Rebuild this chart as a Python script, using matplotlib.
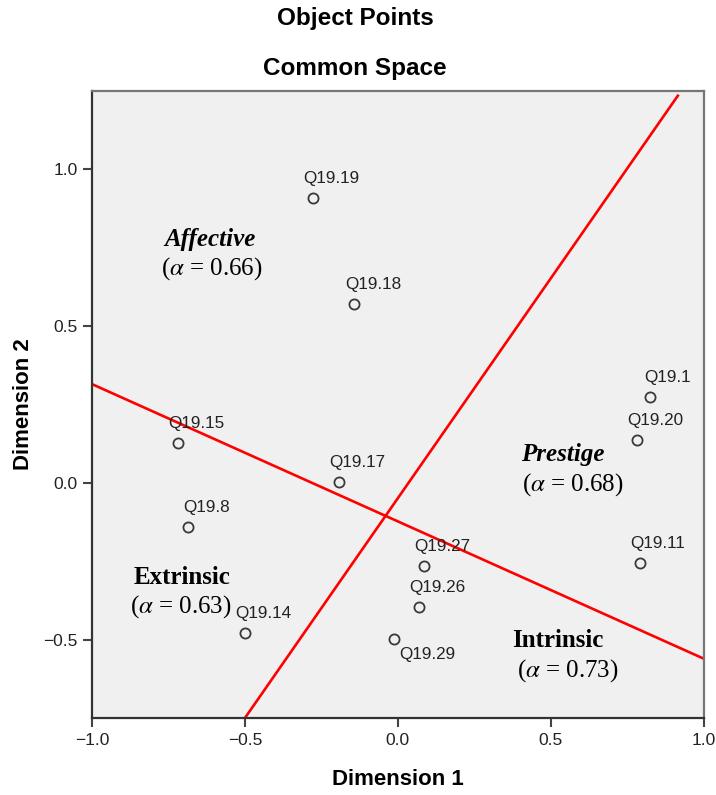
import numpy as np
import matplotlib
matplotlib.use("Agg")
import matplotlib.pyplot as plt

plt.rcParams['font.family'] = ['Liberation Sans', 'DejaVu Sans']
plt.rcParams['mathtext.fontset'] = 'stix'

# Puntos de objeto (espacio comun)
labels = ['Q19.19', 'Q19.18', 'Q19.1', 'Q19.20', 'Q19.15', 'Q19.17',
          'Q19.8', 'Q19.27', 'Q19.11', 'Q19.26', 'Q19.14', 'Q19.29']
dim1 = [-0.279, -0.142, 0.823, 0.780, -0.719, -0.194,
        -0.687, 0.084, 0.790, 0.068, -0.501, -0.014]
dim2 = [0.909, 0.571, 0.274, 0.137, 0.128, 0.004,
        -0.140, -0.264, -0.255, -0.395, -0.478, -0.497]

# Lineas divisorias (extremos)
line1_x = [-0.50, 0.915]
line1_y = [-0.75, 1.235]
line2_x = [-1.0, 1.0]
line2_y = [0.315, -0.561]

# Grupos
groups = ['Affective', 'Prestige', 'Extrinsic', 'Intrinsic']
alphas = ['0.66', '0.68', '0.63', '0.73']
italic = [True, True, False, False]
name_pos = [(-0.615, 0.775), (0.539, 0.089), (-0.707, -0.301), (0.522, -0.503)]
alpha_pos = [(-0.609, 0.683), (0.572, -0.006), (-0.710, -0.396), (0.555, -0.600)]

fig = plt.figure(figsize=(7.16, 7.95), dpi=100)
ax = fig.add_axes([0.1285, 0.0969, 0.8545, 0.7886])
ax.set_facecolor('#f0f0f0')

ax.plot(line1_x, line1_y, color='#ff0000', lw=1.9, zorder=2)
ax.plot(line2_x, line2_y, color='#ff0000', lw=1.9, zorder=2)

ax.plot(dim1, dim2, 'o', ms=7.3, mfc='none', mec='#3a3a3a', mew=1.3, zorder=3)

# Etiquetas de puntos (desplazamiento en pixeles)
for lab, x, y in zip(labels, dim1, dim2):
    dx, dy, va = -9, 12, 'bottom'
    if lab in ('Q19.1', 'Q19.8'):
        dx = -5
    if lab == 'Q19.15':
        dx = -10
    if lab == 'Q19.29':
        dx, dy, va = 6, -8, 'top'
    ax.annotate(lab, (x, y), xytext=(dx * 0.72, dy * 0.72), textcoords='offset points',
                ha='left', va=va, fontsize=12.3, color='#222222', zorder=4)

for g, a, it, (nx, ny), (axx, ay) in zip(groups, alphas, italic, name_pos, alpha_pos):
    ax.text(nx, ny, g, ha='center', va='center', fontsize=18, fontweight='bold',
            fontstyle='italic' if it else 'normal', family='Liberation Serif', zorder=4)
    ax.text(axx, ay, r'($\alpha$ = ' + a + ')', ha='center', va='center', fontsize=18,
            family='Liberation Serif', zorder=4)

ax.set_xlim(-1.0, 1.0)
ax.set_ylim(-0.75, 1.25)
ax.set_xticks([-1.0, -0.5, 0.0, 0.5, 1.0])
ax.set_yticks([-0.5, 0.0, 0.5, 1.0])
ax.set_xticklabels(['\u22121.0', '\u22120.5', '0.0', '0.5', '1.0'])
ax.set_yticklabels(['\u22120.5', '0.0', '0.5', '1.0'])
ax.tick_params(direction='out', length=6.5, width=1.5, color='#444444',
               labelsize=12.5, labelcolor='#222222', pad=4)

for s in ['left', 'bottom']:
    ax.spines[s].set_color('#333333')
    ax.spines[s].set_linewidth(1.6)
for s in ['top', 'right']:
    ax.spines[s].set_color('#777777')
    ax.spines[s].set_linewidth(1.6)

ax.set_xlabel('Dimension 1', fontsize=16, fontweight='bold')
ax.set_ylabel('Dimension 2', fontsize=16, fontweight='bold')
ax.xaxis.set_label_coords(0.5, -0.082)
ax.yaxis.set_label_coords(-0.094, 0.5)

fig.text(0.496, 1 - 18 / 795, 'Object Points', ha='center', va='center',
         fontsize=17.5, fontweight='bold')
fig.text(0.496, 1 - 68 / 795, 'Common Space', ha='center', va='center',
         fontsize=17.5, fontweight='bold')

fig.savefig('out.png', dpi=100)
